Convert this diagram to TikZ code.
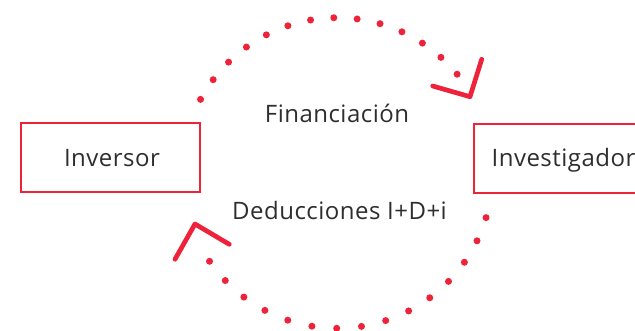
\documentclass[tikz,border=0pt]{standalone}
\usepackage{fontspec}
\usetikzlibrary{calc}
\setmainfont{Open Sans}[LetterSpace=2]
\definecolor{brandred}{HTML}{EE2239}
\definecolor{ink}{HTML}{2E2E2E}
\begin{document}
\begin{tikzpicture}[x=1pt,y=-1pt,
  box/.style={draw=brandred, line width=2pt, minimum width=179pt, minimum height=69pt,
    inner sep=0pt, text height=17pt, text depth=0pt, font=\fontsize{24}{28}\selectfont, text=ink},
  lbl/.style={font=\fontsize{24}{28}\selectfont, text=ink, inner sep=0pt, anchor=base},
  dotmark/.style={fill=brandred, draw=none},
  chevron/.style={draw=brandred, line width=4.7pt, line cap=round, line join=round}]
\useasboundingbox (0,0) rectangle (635,330);
\clip (0,0) rectangle (635,330);
\coordinate (c) at (337.3,173);
% boxes
\node[box] (inv) at (110.5,157.8) {\hspace*{3pt}Inversor};
\node[box] (res) at (563.5,158.3) {Investigador};
% labels
\node[lbl] (fin) at (337,122.5) {Financiación};
\node[lbl] (ded) at (339.5,219) {Deducciones I+D+i};
% top dotted arc
\foreach \i in {0,...,13} {
  \fill[dotmark] ($(c)+({151.7-8.63*\i}:{155.3} and {-155.3})$) circle (3.5pt);
}
% bottom dotted arc
\foreach \i in {0,...,14} {
  \fill[dotmark] ($(c)+({-16.7-9.19*\i}:{155.3} and {-155.3})$) circle (3.5pt);
}
% chevrons
\coordinate (t1) at (432.7,86);
\coordinate (tt) at (470,96.7);
\coordinate (t2) at (481.7,59.3);
\draw[chevron] (t1) -- (tt) -- (t2);
\coordinate (b1) at (175,259.3);
\coordinate (bt) at (195,224);
\coordinate (b2) at (229.3,244.3);
\draw[chevron] (b1) -- (bt) -- (b2);
\end{tikzpicture}
\end{document}
